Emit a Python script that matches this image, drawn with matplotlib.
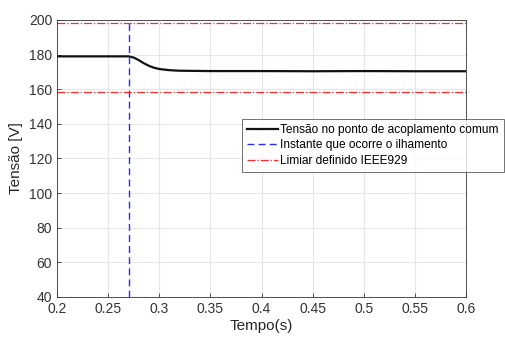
import matplotlib
matplotlib.use("Agg")
import matplotlib.pyplot as plt
import numpy as np

# Voltage at the point of common coupling (V) versus time (s)
tempo = [0.20, 0.25, 0.27, 0.275, 0.28, 0.285, 0.29, 0.295, 0.30, 0.31, 0.32,
         0.35, 0.40, 0.45, 0.50, 0.55, 0.60]
tensao = [179.0, 179.0, 179.0, 178.3, 176.8, 175.0, 173.5, 172.4, 171.7, 171.0, 170.7,
          170.5, 170.5, 170.4, 170.5, 170.4, 170.4]

instante_ilhamento = 0.27
limiar_superior = 198.0
limiar_inferior = 158.4

xticks = [0.2, 0.25, 0.3, 0.35, 0.4, 0.45, 0.5, 0.55, 0.6]
xticklabels = ["0.2", "0.25", "0.3", "0.35", "0.4", "0.45", "0.5", "0.55", "0.6"]
yticks = [40, 60, 80, 100, 120, 140, 160, 180, 200]

plt.rcParams['font.family'] = ['Liberation Sans', 'DejaVu Sans']

fig = plt.figure(figsize=(5.05, 3.38), dpi=100)
ax = fig.add_axes([57 / 505, 1 - 297 / 338, (466 - 57) / 505, (297 - 20) / 338])

ax.plot(tempo, tensao, color='#111111', lw=1.6, label='Tensão no ponto de acoplamento comum')
ax.axvline(instante_ilhamento, color='#2a2aff', lw=1.0, ls=(0, (5, 3)),
           label='Instante que ocorre o ilhamento')
ax.axhline(limiar_superior, color='#ff2a2a', lw=0.9, ls='-.', label='Limiar definido IEEE929')
ax.axhline(limiar_inferior, color='#ff2a2a', lw=0.9, ls='-.')

ax.set_xlim(0.2, 0.6)
ax.set_ylim(40, 200)
ax.set_xticks(xticks)
ax.set_xticklabels(xticklabels)
ax.set_yticks(yticks)
ax.grid(True, color='#e6e6e6', lw=0.8)
ax.set_axisbelow(True)
ax.tick_params(direction='in', labelsize=10, colors='#333333', length=3, width=0.6)
for s in ax.spines.values():
    s.set_color('#333333')
    s.set_linewidth(0.6)

ax.set_xlabel('Tempo(s)', fontsize=11, color='#262626', labelpad=2)
ax.set_ylabel('Tensão [V]', fontsize=11, color='#262626', labelpad=4)

leg = fig.legend(loc='upper left', bbox_to_anchor=(242 / 505, 1 - 119 / 338),
                 fontsize=8.6, frameon=True, fancybox=False, handlelength=2.6,
                 handletextpad=0.2, borderpad=0.4, labelspacing=0.3, borderaxespad=0)
leg.get_frame().set_edgecolor('#333333')
leg.get_frame().set_linewidth(0.6)

fig.savefig('out.png', dpi=100)
